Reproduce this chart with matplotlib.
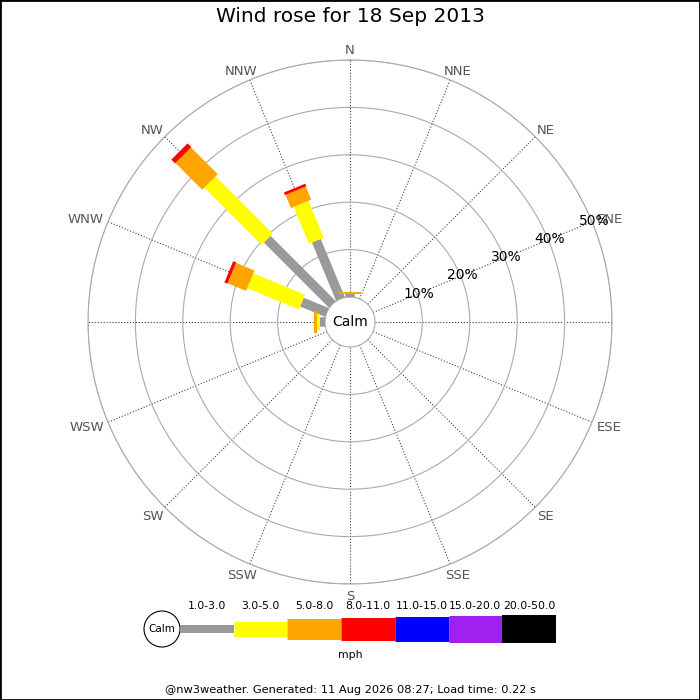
import numpy as np
import matplotlib
matplotlib.use('Agg')
import matplotlib.pyplot as plt
from matplotlib.patches import Circle, Rectangle

# 16 compass directions, percent of time in each speed class (mph)
directions = ['N', 'NNE', 'NE', 'ENE', 'E', 'ESE', 'SE', 'SSE',
              'S', 'SSW', 'SW', 'WSW', 'W', 'WNW', 'NW', 'NNW']
speed_classes = ['1.0-3.0', '3.0-5.0', '5.0-8.0', '8.0-11.0',
                 '11.0-15.0', '15.0-20.0', '20.0-50.0']
class_colors = ['#999999', '#ffff00', '#ffa500', '#ff0000',
                '#0000ff', '#a020f0', '#000000']
legend_widths_px = [8, 15, 21, 23, 25, 27, 28]
rose_widths_px = [9.5, 16, 22, 23, 25, 27, 28]

pct_1_3 = [0.6, 0, 0, 0, 0, 0, 0, 0, 0, 0, 0, 0, 1.05, 5.7, 19.4, 13.3]
pct_3_5 = [0.0, 0, 0, 0, 0, 0, 0, 0, 0, 0, 0, 0, 0.6, 11.8, 17.1, 8.4]
pct_5_8 = [0.4, 0, 0, 0, 0, 0, 0, 0, 0, 0, 0, 0, 0.6, 4.2, 8.0, 3.0]
pct_8_11 = [0, 0, 0, 0, 0, 0, 0, 0, 0, 0, 0, 0, 0, 0.7, 1.1, 0.6]
pct_11_15 = [0] * 16
pct_15_20 = [0] * 16
pct_20_50 = [0] * 16
all_pct = [pct_1_3, pct_3_5, pct_5_8, pct_8_11, pct_11_15, pct_15_20, pct_20_50]

ring_vals = [10, 20, 30, 40, 50]
ring_labels = ['10%', '20%', '30%', '40%', '50%']

title = 'Wind rose for 18 Sep 2013'
footer = '@nw3weather. Generated: 11 Aug 2026 08:27; Load time: 0.22 s'

DPI = 100
px2pt = 72.0 / DPI

fig = plt.figure(figsize=(7, 7), dpi=DPI)

# rose
ax = fig.add_axes([88 / 700, 116 / 700, 524 / 700, 524 / 700], projection='polar')
ax.set_theta_zero_location('N')
ax.set_theta_direction(-1)
calm_r = 25 / (237 / 50.0)
ax.set_rlim(0, 50)
ax.set_rorigin(-calm_r)

angles = np.arange(16) * 22.5
ax.set_thetagrids(angles, labels=[''] * 16)
ax.set_rgrids(ring_vals, labels=[''] * 5)
ax.xaxis.grid(True, color='#444444', linestyle=':', linewidth=0.8)
ax.yaxis.grid(True, color='#aaaaaa', linestyle='-', linewidth=0.8)
for sp in ax.spines.values():
    sp.set_color('#aaaaaa')
    sp.set_linewidth(0.8)
ax.tick_params(length=0)

theta = np.deg2rad(angles)
cum = np.zeros(16)
for vals, col, w in zip(all_pct, class_colors, rose_widths_px):
    vals = np.array(vals, dtype=float)
    for i in range(16):
        if vals[i] > 0:
            ax.plot([theta[i], theta[i]], [cum[i], cum[i] + vals[i]], color=col,
                    lw=w * px2pt, solid_capstyle='butt', zorder=3)
    cum += vals

# direction labels sit just outside the end of each spoke
renderer = fig.canvas.get_renderer()
gap = 6
for th, d in zip(theta, directions):
    ann = ax.annotate(d, xy=(th, 50), xytext=(0, 0), textcoords='offset pixels',
                      ha='center', va='center', fontsize=9.5, color='#555555')
    bb = ann.get_window_extent(renderer)
    ann.xyann = (np.sin(th) * (gap + bb.width / 2), np.cos(th) * (gap + 5) - 1.5)

for rv, rl in zip(ring_vals, ring_labels):
    ax.text(np.deg2rad(67.5), rv + 0.4, rl, ha='center', va='center', fontsize=10,
            color='black', zorder=4)

ax.text(0.5, 0.5, 'Calm', transform=ax.transAxes, ha='center', va='center', fontsize=10)

# legend / footer in pixel coordinates
lax = fig.add_axes([0, 0, 1, 1])
lax.set_xlim(0, 700)
lax.set_ylim(700, 0)
lax.axis('off')

lx0, seg_w, ly = 180, 53.7, 629
lax.add_patch(Circle((162, ly), 18, facecolor='white', edgecolor='black', lw=0.8))
lax.text(162, ly, 'Calm', ha='center', va='center', fontsize=7.5)
for i, (lab, col, w) in enumerate(zip(speed_classes, class_colors, legend_widths_px)):
    x0 = lx0 + i * seg_w
    lax.plot([x0, x0 + seg_w], [ly, ly], color=col, lw=w * px2pt, solid_capstyle='butt')
    lax.text(x0 + seg_w / 2, 606, lab, ha='center', va='center', fontsize=7.8)
lax.text(350, 655, 'mph', ha='center', va='center', fontsize=7.8)
lax.text(350, 690, footer, ha='center', va='center', fontsize=8.2)

fig.text(0.5, 1 - 17 / 700, title, ha='center', va='center', fontsize=14.5)
fig.patches.append(Rectangle((0, 0), 1, 1, transform=fig.transFigure, fill=False,
                             edgecolor='black', lw=2))

fig.savefig('out.png', dpi=DPI)
